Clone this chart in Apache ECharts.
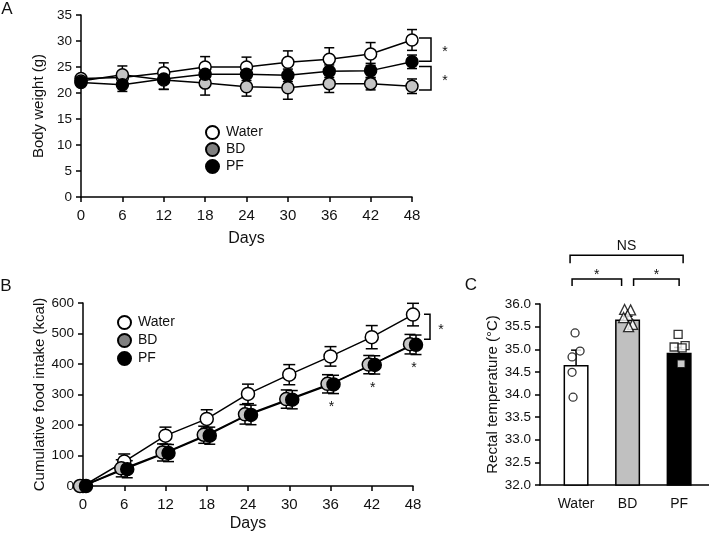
<!DOCTYPE html>
<html>
<head>
<meta charset="utf-8">
<script src="https://cdn.jsdelivr.net/npm/echarts@6/dist/echarts.min.js"></script>
<style>
  html, body { margin: 0; padding: 0; background: #fff; }
  #main { width: 709px; height: 533px; }
</style>
</head>
<body>
<div id="main"></div>
<script>
// ---- data ----
const days = [0, 6, 12, 18, 24, 30, 36, 42, 48];

// A: body weight (g)
const bwWater = [22.8, 23.0, 23.9, 25.0, 25.0, 25.9, 26.5, 27.5, 30.2];
const bwBD    = [22.3, 23.5, 22.5, 21.9, 21.2, 21.0, 21.8, 21.8, 21.3];
const bwPF    = [22.0, 21.6, 22.7, 23.6, 23.6, 23.4, 24.2, 24.3, 26.0];
const bwWaterErr = [0.6, 1.0, 1.9, 2.0, 1.9, 2.2, 2.2, 2.2, 2.0];
const bwBDErr    = [0.6, 1.7, 1.8, 2.3, 1.8, 2.2, 1.7, 1.2, 1.4];
const bwPFErr    = [0.5, 1.3, 2.0, 1.2, 1.2, 1.2, 1.2, 1.4, 1.3];

// B: cumulative food intake (kcal)
const foodWater = [0, 80, 165, 220, 302, 365, 425, 488, 562];
const foodBD    = [0, 58, 110, 168, 235, 285, 335, 398, 465];
const foodPF    = [0, 55, 108, 165, 233, 283, 333, 397, 463];
const foodWaterErr = [0, 25, 28, 30, 32, 33, 32, 38, 37];
const foodBDErr    = [0, 28, 28, 28, 32, 30, 30, 30, 32];
const foodPFErr    = [0, 28, 28, 28, 32, 30, 30, 30, 32];

// C: rectal temperature
const tempCats = ['Water', 'BD', 'PF'];
const tempMean = [34.65, 35.66, 34.92];
const tempErr  = [0.33, 0.07, 0.12];
const tempWater = [35.36, 34.96, 34.83, 34.49, 33.94];
const tempBD    = [35.88, 35.87, 35.75, 35.70, 35.55, 35.50];
const tempPF    = [35.33, 35.05, 35.08, 35.03, 34.68];

// ---- styles ----
const FONT = '"Liberation Sans", Arial, sans-serif';
const INK = '#111';
const fills = { Water: '#ffffff', BD: '#c4c4c4', PF: '#000000' };
const barFills = ['#ffffff', '#c0c0c0', '#000000'];
// little horizontal spread of the dots in C (px)
const spreadWater = [-1, 4, -4, -4, -3];
const spreadBD    = [-3, 3, 0, -4, 5, 1];
const spreadPF    = [-1, -5, 6, 3, 2];

const chart = echarts.init(document.getElementById('main'));

function axisX(grid, name, gap) {
  return {
    type: 'value', gridIndex: grid, min: 0, max: 48, interval: 6,
    name: name, nameLocation: 'middle', nameGap: gap,
    nameTextStyle: { fontSize: 16, color: INK, fontFamily: FONT },
    axisLine: { lineStyle: { color: '#000', width: 1.5 } },
    axisTick: { length: 5, lineStyle: { color: '#000', width: 1.5 } },
    axisLabel: { fontSize: 15, color: INK, fontFamily: FONT, margin: 11 },
    splitLine: { show: false }
  };
}
function axisY(grid, min, max, step, name, gap, fmt) {
  return {
    type: 'value', gridIndex: grid, min: min, max: max, interval: step,
    name: name, nameLocation: 'middle', nameGap: gap,
    nameTextStyle: { fontSize: 15, color: INK, fontFamily: FONT },
    axisLine: { show: true, lineStyle: { color: '#000', width: 1.5 } },
    axisTick: { show: true, length: 5, lineStyle: { color: '#000', width: 1.5 } },
    axisLabel: { fontSize: 13.5, color: INK, fontFamily: FONT, margin: 9, formatter: fmt },
    splitLine: { show: false }
  };
}

// error bars drawn via the axes' scales
function errBars(grid, xs, ys, es, cap, dx, upOnly) {
  return {
    type: 'custom', xAxisIndex: grid, yAxisIndex: grid, silent: true,
    data: xs.map((x, i) => [x, ys[i], es[i]]),
    encode: { x: 0, y: 1 },
    renderItem: function (params, api) {
      const x = api.value(0), y = api.value(1), e = api.value(2);
      if (!e) return;
      const top = api.coord([x, y + e]);
      const bot = api.coord([x, upOnly ? y : y - e]);
      const cx = top[0] + dx;
      const st = { stroke: '#000', lineWidth: 1.5 };
      const kids = [
        { type: 'line', shape: { x1: cx, y1: top[1], x2: cx, y2: bot[1] }, style: st },
        { type: 'line', shape: { x1: cx - cap / 2, y1: top[1], x2: cx + cap / 2, y2: top[1] }, style: st }
      ];
      if (!upOnly) kids.push({ type: 'line', shape: { x1: cx - cap / 2, y1: bot[1], x2: cx + cap / 2, y2: bot[1] }, style: st });
      return { type: 'group', children: kids };
    }
  };
}

function lineSeries(grid, name, ys, size, dx) {
  return {
    type: 'line', name: name, xAxisIndex: grid, yAxisIndex: grid,
    data: days.map((d, i) => [d, ys[i]]),
    symbol: 'circle', symbolSize: size, symbolOffset: [dx, 0], showSymbol: true,
    lineStyle: { color: '#000', width: 1.5 },
    itemStyle: { color: fills[name], borderColor: '#000', borderWidth: 1.5 },
    emphasis: { disabled: true }
  };
}

function dots(vals, idx, spread, symbol, size) {
  return {
    type: 'scatter', xAxisIndex: 2, yAxisIndex: 2, symbol: symbol, symbolSize: size,
    itemStyle: { color: '#fff', borderColor: '#000', borderWidth: 1.3 },
    data: vals.map((v, i) => ({ value: [idx, v], symbolOffset: [spread[i], 0] }))
  };
}

function legendFor(left, top, gap) {
  return {
    left: left, top: top, orient: 'vertical', icon: 'circle',
    itemWidth: 13, itemHeight: 13, itemGap: gap, selectedMode: false,
    textStyle: { fontSize: 14, color: INK, fontFamily: FONT, padding: [0, 0, 0, 2] },
    data: [{ name: 'Water' }, { name: 'BD', itemStyle: { color: '#808080' } }, { name: 'PF' }]
  };
}

const option = {
  animation: false,
  backgroundColor: '#fff',
  textStyle: { fontFamily: FONT },
  grid: [
    { left: 81, top: 15, width: 331, height: 182 },
    { left: 83, top: 303, width: 330, height: 183 },
    { left: 540, top: 304, width: 169, height: 181 }
  ],
  legend: [legendFor(200, 120, 2), legendFor(112, 310, 3)],
  xAxis: [
    axisX(0, 'Days', 34),
    axisX(1, 'Days', 30),
    {
      type: 'value', gridIndex: 2, min: 0.3, max: 3.58,
      axisLine: { lineStyle: { color: '#000', width: 1.5 } },
      axisTick: { show: false },
      axisLabel: {
        customValues: [1, 2, 3], fontSize: 14, color: INK, fontFamily: FONT, margin: 12,
        formatter: v => tempCats[Math.round(v) - 1] || ''
      },
      splitLine: { show: false }
    }
  ],
  yAxis: [
    axisY(0, 0, 35, 5, 'Body weight (g)', 35),
    axisY(1, 0, 600, 100, 'Cumulative food intake (kcal)', 36),
    axisY(2, 32, 36, 0.5, 'Rectal temperature (°C)', 35, v => v.toFixed(1))
  ],
  series: [
    // A
    errBars(0, days, bwWater, bwWaterErr, 10, 0, false),
    lineSeries(0, 'Water', bwWater, 12, 0),
    errBars(0, days, bwBD, bwBDErr, 10, 0, false),
    lineSeries(0, 'BD', bwBD, 12, 0),
    errBars(0, days, bwPF, bwPFErr, 10, 0, false),
    lineSeries(0, 'PF', bwPF, 12, 0),
    // B
    errBars(1, days, foodWater, foodWaterErr, 12, 0, false),
    lineSeries(1, 'Water', foodWater, 13, 0),
    errBars(1, days, foodBD, foodBDErr, 11, -3, false),
    lineSeries(1, 'BD', foodBD, 13, -3),
    errBars(1, days, foodPF, foodPFErr, 11, 3, false),
    lineSeries(1, 'PF', foodPF, 13, 3),
    // C
    {
      type: 'bar', xAxisIndex: 2, yAxisIndex: 2, barWidth: 25,
      data: tempMean.map((m, i) => ({
        value: [i + 1, m],
        itemStyle: { color: barFills[i], borderColor: '#000', borderWidth: 1.5 }
      }))
    },
    errBars(2, [1, 2, 3], tempMean, tempErr, 10, 0, true),
    dots(tempWater, 1, spreadWater, 'circle', 8),
    dots(tempBD, 2, spreadBD, 'triangle', 10),
    dots(tempPF, 3, spreadPF, 'rect', 8)
  ]
};
chart.setOption(option);

// ---- annotations: panel letters, brackets, stars ----
const px = (g, x, y) => chart.convertToPixel({ gridIndex: g }, [x, y]);
const lineSt = { stroke: '#000', lineWidth: 1.5, fill: null };
const g = [];
function txt(x, y, s, size) {
  g.push({ type: 'text', x: x, y: y, silent: true,
    style: { text: s, fill: INK, font: size + 'px ' + FONT, align: 'center', verticalAlign: 'middle' } });
}
function poly(points) {
  g.push({ type: 'polyline', silent: true, shape: { points: points }, style: lineSt });
}
txt(7, 9, 'A', 17);
txt(6, 286, 'B', 17);
txt(471, 285, 'C', 17);

// A: right-side brackets at day 48
const ax = px(0, 48, 0)[0];
[[30.6, 26.1], [25.1, 20.6]].forEach(([hi, lo]) => {
  const y1 = px(0, 48, hi)[1], y2 = px(0, 48, lo)[1];
  poly([[ax + 7, y1], [ax + 19, y1], [ax + 19, y2], [ax + 7, y2]]);
  txt(ax + 33, (y1 + y2) / 2 + 3, '*', 14);
});

// B: bracket at day 48 + stars under BD/PF
const bx = px(1, 48, 0)[0];
{
  const y1 = px(1, 48, 563)[1], y2 = px(1, 48, 481)[1];
  poly([[bx + 11, y1], [bx + 17, y1], [bx + 17, y2], [bx + 11, y2]]);
  txt(bx + 28, (y1 + y2) / 2 + 3, '*', 14);
}
[36, 42, 48].forEach(d => {
  const p = px(1, d, foodPF[days.indexOf(d)]);
  txt(p[0] + 1, p[1] + 23, '*', 14);
});

// C: significance brackets
const cW = px(2, 1, 32)[0], cB = px(2, 2, 32)[0], cP = px(2, 3, 32)[0];
const yNS = px(2, 1, 37.08)[1], yNSl = px(2, 1, 36.9)[1];
poly([[cW - 6, yNSl], [cW - 6, yNS], [cP + 4, yNS], [cP + 4, yNSl]]);
txt((cW + cP) / 2 - 1, yNS - 9, 'NS', 14);
const yS = px(2, 1, 36.55)[1], ySl = px(2, 1, 36.4)[1];
poly([[cW - 4, ySl], [cW - 4, yS], [cB - 6, yS], [cB - 6, ySl]]);
txt((cW - 4 + cB - 6) / 2, yS - 4, '*', 14);
poly([[cB + 6, ySl], [cB + 6, yS], [cP, yS], [cP, ySl]]);
txt((cB + 6 + cP) / 2, yS - 4, '*', 14);

chart.setOption({ graphic: g });
</script>
</body>
</html>
